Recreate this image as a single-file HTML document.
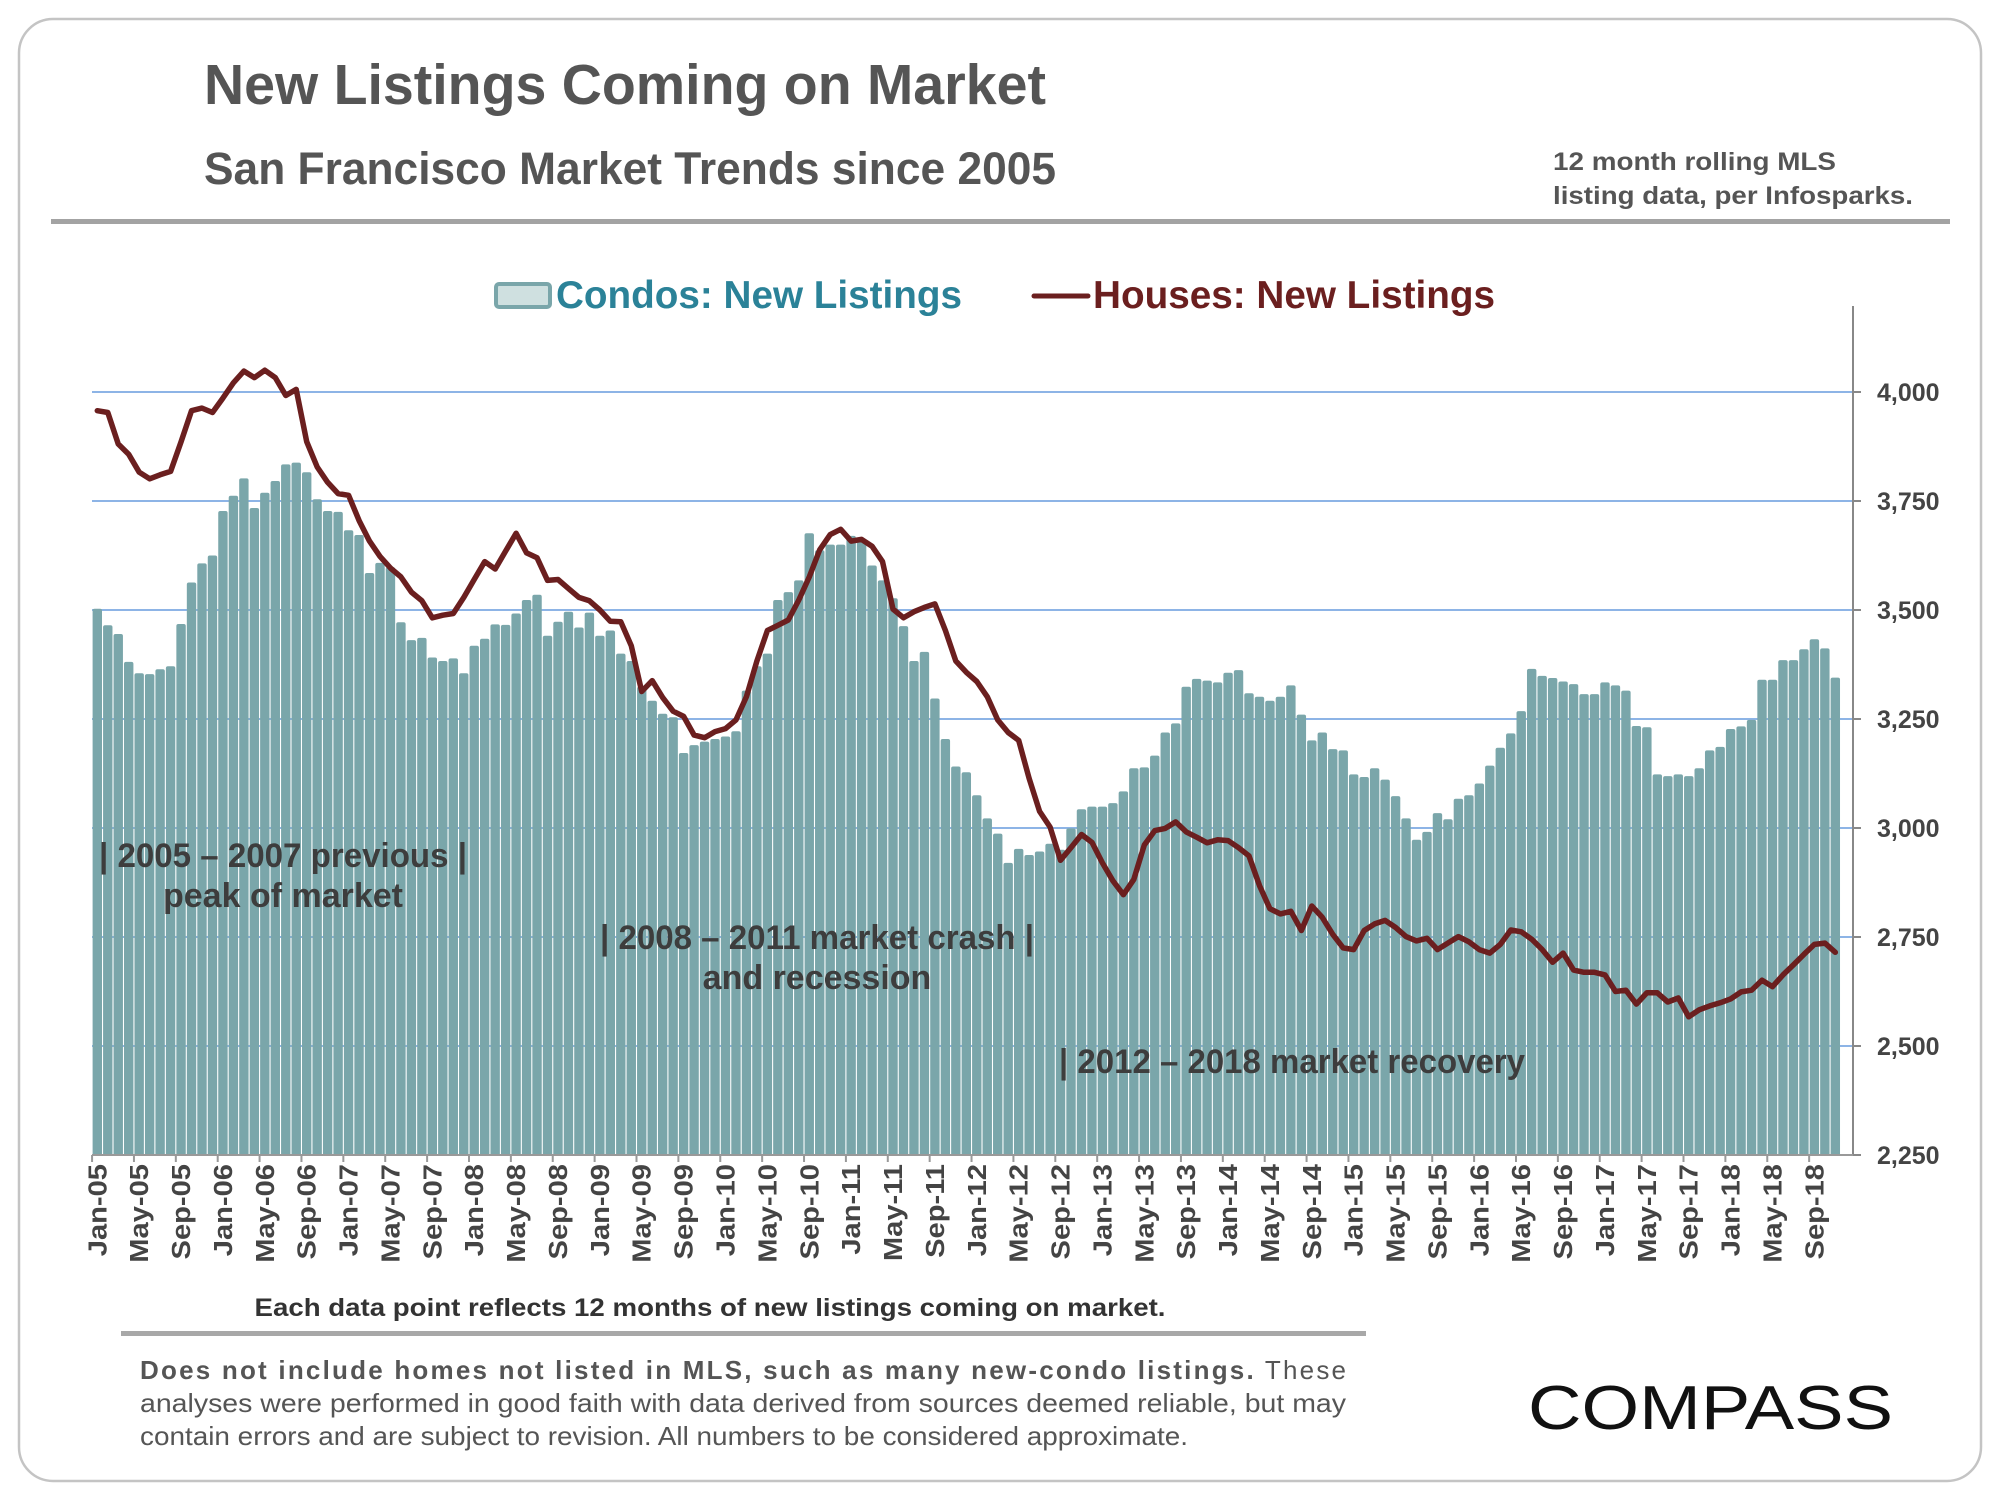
<!DOCTYPE html>
<html><head><meta charset="utf-8"><title>New Listings Coming on Market</title>
<style>
html,body{margin:0;padding:0;background:#fff;}
svg{display:block;font-family:"Liberation Sans",Arial,sans-serif;}
</style></head>
<body>
<svg id="chart" width="2000" height="1500" viewBox="0 0 2000 1500" xmlns="http://www.w3.org/2000/svg">
  <rect x="19" y="19" width="1962" height="1462" rx="34" fill="#fff" stroke="#c4c4c4" stroke-width="2.5"/>
  <text x="204" y="104" font-size="57" font-weight="bold" fill="#555" textLength="842" lengthAdjust="spacingAndGlyphs">New Listings Coming on Market</text>
  <text x="204" y="184" font-size="45" font-weight="bold" fill="#555" textLength="852" lengthAdjust="spacingAndGlyphs">San Francisco Market Trends since 2005</text>
  <text x="1553" y="170" font-size="25" font-weight="bold" fill="#555" textLength="283" lengthAdjust="spacingAndGlyphs">12 month rolling MLS</text>
  <text x="1553" y="204" font-size="25" font-weight="bold" fill="#555" textLength="360" lengthAdjust="spacingAndGlyphs">listing data, per Infosparks.</text>
  <rect x="51" y="219" width="1899" height="5" fill="#a3a3a3"/>

  <g>
    <g>
      <rect x="496" y="284" width="54" height="23" rx="3" fill="#cfe0e0" stroke="#7aa6aa" stroke-width="4"/>
      <text x="556" y="308" font-size="39" font-weight="bold" fill="#2b8298" textLength="406" lengthAdjust="spacingAndGlyphs">Condos: New Listings</text>
    </g>
    <g>
      <line x1="1034" y1="296" x2="1088" y2="296" stroke="#6b1f1f" stroke-width="5" stroke-linecap="round"/>
      <text x="1093" y="308" font-size="39" font-weight="bold" fill="#6b1f1f" textLength="402" lengthAdjust="spacingAndGlyphs">Houses: New Listings</text>
    </g>
  </g>

  <g id="grid"></g>
  <g id="bars"></g>
  <g id="annot">
    <text x="99" y="867" font-size="34" font-weight="bold" fill="#3d3d3d" textLength="368" lengthAdjust="spacingAndGlyphs">| 2005 – 2007 previous |</text>
    <text x="283" y="907" font-size="34" font-weight="bold" fill="#3d3d3d" text-anchor="middle">peak of market</text>
    <text x="600" y="949" font-size="34" font-weight="bold" fill="#3d3d3d" textLength="434" lengthAdjust="spacingAndGlyphs">| 2008 – 2011 market crash |</text>
    <text x="817" y="989" font-size="34" font-weight="bold" fill="#3d3d3d" text-anchor="middle">and recession</text>
    <text x="1059" y="1073" font-size="34" font-weight="bold" fill="#3d3d3d" textLength="466" lengthAdjust="spacingAndGlyphs">| 2012 – 2018 market recovery</text>
  </g>
  <g id="line"></g>
  <g id="axes"></g>

  <text x="710" y="1316" font-size="25" font-weight="bold" fill="#333" text-anchor="middle" textLength="911" lengthAdjust="spacingAndGlyphs">Each data point reflects 12 months of new listings coming on market.</text>
  <rect x="121" y="1331" width="1245" height="5" fill="#a8a8a8"/>
  <g>
    <text x="140" y="1379" font-size="26" fill="#555" textLength="1206" lengthAdjust="spacing"><tspan font-weight="bold">Does not include homes not listed in MLS, such as many new-condo listings.</tspan> These</text>
    <text x="140" y="1412" font-size="26" fill="#555" textLength="1206" lengthAdjust="spacingAndGlyphs">analyses were performed in good faith with data derived from sources deemed reliable, but may</text>
    <text x="140" y="1445" font-size="26" fill="#555" textLength="1048" lengthAdjust="spacingAndGlyphs">contain errors and are subject to revision. All numbers to be considered  approximate.</text>
  </g>
  <text x="1528" y="1429" font-size="62" fill="#111" textLength="365" lengthAdjust="spacingAndGlyphs">COMPASS</text>
</svg>
<script>
const months = ["Jan","Feb","Mar","Apr","May","Jun","Jul","Aug","Sep","Oct","Nov","Dec"];
const startYear = 2005;
const condoValues = [
3503,3465,3445,3381,3355,3353,3364,3371,3468,3563,3607,3625,3727,3762,3802,3734,3769,3796,3834,3838,3816,3754,3727,3725,3683,3672,3585,3608,3598,3472,3431,3436,3391,3383,3389,3355,3418,3434,3467,3466,3492,3523,3535,
3441,3473,3496,3460,3494,3441,3453,3400,3383,3324,3292,3262,3254,3172,3190,3198,3204,3210,3222,3315,3371,3400,3523,3541,3568,3676,3637,3650,3650,3670,3658,3602,3568,3527,3463,3383,3404,3297,3204,3141,3128,3075,
3022,2987,2920,2952,2938,2946,2964,2950,2999,3043,3049,3049,3057,3084,3137,3139,3166,3219,3240,3324,3342,3338,3334,3356,3362,3309,3301,3292,3301,3327,3260,3201,3219,3181,3178,3123,3117,3137,3111,3073,3022,2973,
2991,3034,3020,3067,3075,3102,3143,3184,3217,3268,3365,3349,3344,3336,3330,3307,3307,3334,3327,3315,3234,3231,3123,3119,3123,3119,3137,3178,3186,3227,3233,3248,3340,3340,3385,3385,3410,3433,3412,3345];
const houseValues = [
3957,3953,3881,3857,3816,3801,3810,3818,3886,3957,3963,3953,3986,4021,4048,4033,4050,4033,3992,4006,3886,3828,3793,3767,3763,3705,3658,3623,3596,3576,3541,3521,3482,3488,3492,3529,3570,3611,3594,3635,3676,3631,3620,
3568,3570,3549,3529,3521,3500,3474,3473,3418,3313,3338,3299,3268,3256,3213,3207,3221,3228,3248,3301,3383,3453,3465,3477,3523,3576,3638,3673,3685,3658,3662,3646,3611,3502,3482,3496,3506,3514,3453,3383,3357,3336,
3301,3248,3219,3201,3114,3038,3002,2926,2955,2985,2967,2920,2879,2847,2882,2961,2994,2999,3014,2991,2979,2966,2973,2971,2955,2936,2868,2815,2803,2809,2765,2821,2795,2756,2725,2721,2765,2780,2788,2772,2751,2741,
2747,2721,2736,2751,2739,2721,2713,2733,2766,2762,2745,2721,2692,2713,2674,2669,2669,2663,2625,2628,2596,2622,2622,2601,2610,2567,2583,2592,2599,2608,2624,2628,2651,2636,2663,2686,2710,2733,2736,2715];
const yTicks = [2250,2500,2750,3000,3250,3500,3750,4000];
const yTickLabels = ["2,250","2,500","2,750","3,000","3,250","3,500","3,750","4,000"];
const categories = condoValues.map((v,i)=>months[i%12]+"-"+String((startYear+Math.floor(i/12))%100).padStart(2,"0"));

const NS = "http://www.w3.org/2000/svg";
const plotL = 92, plotR = 1853, yMin = 2250, yMax = 4000, yBot = 1155, yTop = 392;
const step = 10.47, x0 = 97.3;
function xScale(i){ return x0 + i*step; }
function yScale(v){ return yBot - (v - yMin)*(yBot - yTop)/(yMax - yMin); }
function mk(tag, attrs, parent){ const e=document.createElementNS(NS,tag); for(const k in attrs) e.setAttribute(k,attrs[k]); parent.appendChild(e); return e; }

const grid = document.getElementById("grid");
yTicks.forEach((t,k)=>{
  if(k===0) return;
  const g = mk("line",{x1:plotL,x2:plotR,y1:yScale(t),y2:yScale(t),stroke:"#8db4e6","stroke-width":2},grid);
  
  
});

const bars = document.getElementById("bars");
condoValues.forEach((v,i)=>{
  const top = yScale(v), w = 9.4;
  const r = mk("path",{d:`M${xScale(i)-w/2},${yBot} V${top+2} Q${xScale(i)-w/2},${top} ${xScale(i)-w/2+2},${top} H${xScale(i)+w/2-2} Q${xScale(i)+w/2},${top} ${xScale(i)+w/2},${top+2} V${yBot} Z`,fill:"#7aa6aa"},bars);
  
  
});

const lineG = document.getElementById("line");
const pts = houseValues.map((v,i)=>xScale(i).toFixed(1)+","+yScale(v).toFixed(1)).join(" ");
const pl = mk("polyline",{points:pts,fill:"none",stroke:"#6b1f1f","stroke-width":5.5,"stroke-linejoin":"round","stroke-linecap":"round"},lineG);



const axes = document.getElementById("axes");
const ya = mk("line",{x1:plotR,x2:plotR,y1:306,y2:yBot,stroke:"#888","stroke-width":2},axes);


const xa = mk("line",{x1:plotL,x2:plotR,y1:yBot,y2:yBot,stroke:"#999","stroke-width":2},axes);


yTicks.forEach((t,k)=>{
  const tk = mk("line",{x1:plotR,x2:plotR+8,y1:yScale(t),y2:yScale(t),stroke:"#888","stroke-width":2},axes);
  
  
  const tx = mk("text",{x:1877,y:yScale(t)+9,"font-size":25,"font-weight":"bold",fill:"#444"},axes);
  tx.textContent = yTickLabels[k];
  
  
});
categories.forEach((c,i)=>{
  if(i%4!==0) return;
  const bx = xScale(i) - step/2;
  const tk = mk("line",{x1:bx,x2:bx,y1:yBot,y2:yBot+7,stroke:"#999","stroke-width":2},axes);
  
  
  const cx = xScale(i)+9, cy = 1164;
  const tx = mk("text",{x:0,y:0,"font-size":26,"font-weight":"bold",fill:"#444","text-anchor":"end",transform:`translate(${cx},${cy}) rotate(-90) scale(1.12,1)`},axes);
  tx.textContent = c;
  
  
});
</script>
</body></html>
